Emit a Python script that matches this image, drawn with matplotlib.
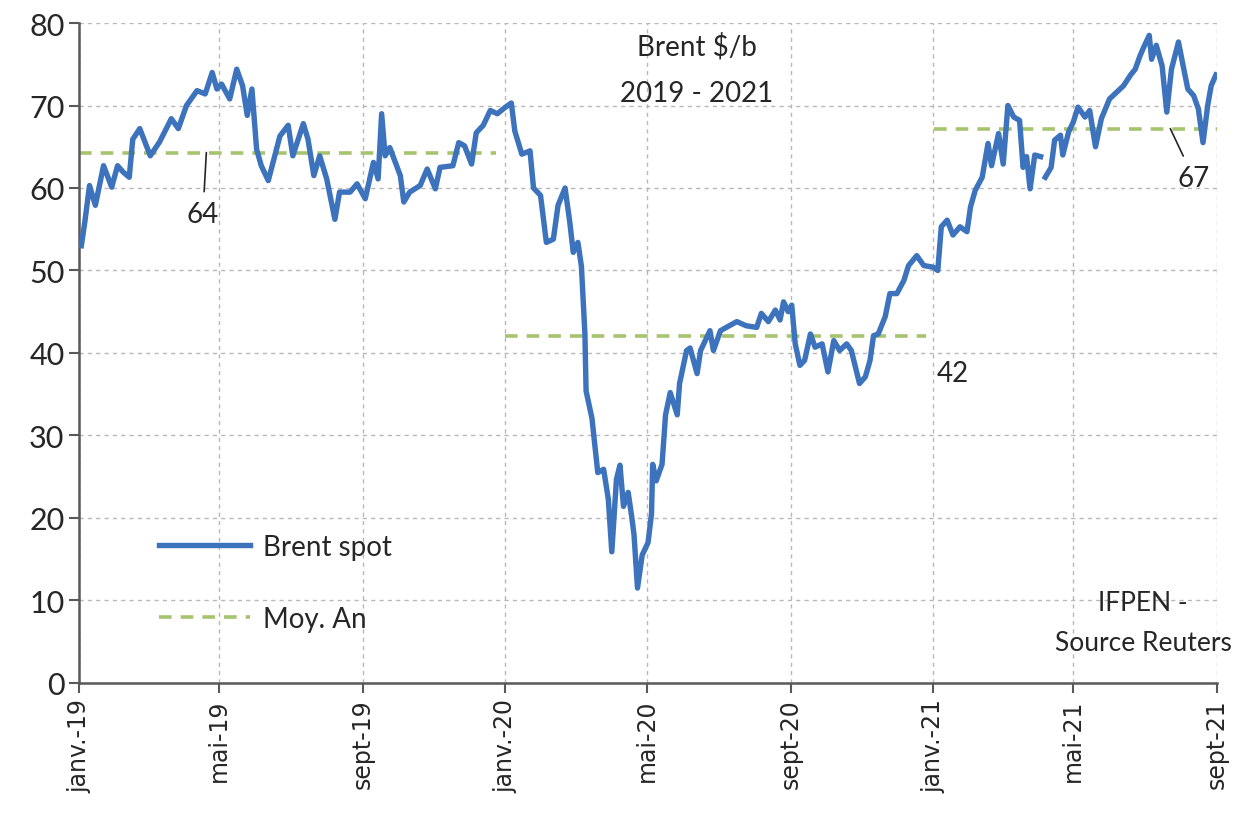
import numpy as np
import pandas as pd
import matplotlib
matplotlib.use("Agg")
import matplotlib.pyplot as plt

START = pd.Timestamp("2019-01-01")

# days since 1 Jan 2019, Brent spot $/b (nan = gap)
days = [2, 5, 9, 14, 21, 28, 33, 38, 43, 46, 52, 61, 69, 79, 85, 92, 101, 108, 114, 118,
        122, 129, 135, 140, 144, 148, 152, 156, 162, 172, 179, 183, 192, 196, 201, 206, 212,
        219, 223, 232, 238, 245, 252, 256, 259, 262, 266, 275, 278, 283, 292, 298, 305, 309,
        320, 325, 330, 336, 340, 346, 352, 358, 365, 370, 373, 379, 386, 389, 395, 400, 406,
        410, 416, 420, 423, 427, 430, 433, 434, 439, 444, 449, 453, 456, 460, 463, 466, 470,
        473, 475, 478, 482, 487, 490, 491, 494, 499, 502, 506, 512, 514, 520, 523, 529, 532,
        540, 543, 549, 554, 563, 571, 580, 584, 590, 596, 600, 603, 607, 610, 613, 617, 621,
        626, 630, 636, 641, 646, 651, 657, 661, 668, 673, 677, 680, 684, 690, 694, 700, 706,
        710, 717, 723, 731, 735, 738, 743, 748, 754, 760, 763, 767, 773, 778, 781, 787, 791,
        795, 800, 805, 808, 811, 814, 818, 823, 826, 827, 832, 835, 840, 842, 847, 851, 855,
        861, 865, 870, 875, 882, 888, 894, 900, 904, 908, 912, 916, 918, 922, 927, 931, 935,
        941, 945, 949, 954, 958, 962, 966, 969, 973]
brent = [53.0, 55.9, 60.3, 57.9, 62.7, 60.1, 62.7, 61.9, 61.3, 65.9, 67.2, 63.9, 65.6, 68.4,
         67.2, 70.0, 71.8, 71.4, 74.0, 72.0, 72.6, 70.8, 74.4, 72.4, 68.8, 72.0, 64.7, 62.7,
         60.9, 66.3, 67.6, 63.9, 67.8, 65.9, 61.5, 63.9, 61.1, 56.2, 59.5, 59.5, 60.5, 58.7,
         63.1, 61.1, 69.0, 63.9, 64.9, 61.5, 58.3, 59.5, 60.3, 62.3, 59.9, 62.5, 62.7, 65.5,
         65.1, 62.9, 66.7, 67.6, 69.4, 69.0, 69.8, 70.3, 66.9, 64.1, 64.5, 60.0, 59.1, 53.4,
         53.8, 57.9, 60.0, 55.9, 52.2, 53.4, 50.5, 42.3, 35.4, 32.1, 25.5, 25.9, 22.3, 15.9,
         24.7, 26.4, 21.4, 23.1, 20.2, 18.0, 11.5, 15.5, 17.0, 20.5, 26.5, 24.5, 26.5, 32.5,
         35.2, 32.5, 36.3, 40.3, 40.6, 37.5, 40.3, 42.7, 40.3, 42.7, 43.1, 43.8, 43.3, 43.1,
         44.8, 43.8, 45.2, 44.0, 46.2, 45.0, 45.8, 41.1, 38.5, 39.1, 42.3, 40.7, 41.1, 37.7,
         41.5, 40.3, 41.1, 40.3, 36.3, 37.1, 39.1, 42.1, 42.3, 44.4, 47.2, 47.2, 48.8, 50.6,
         51.8, 50.6, 50.4, 50.0, 55.3, 56.1, 54.3, 55.3, 54.7, 57.7, 59.7, 61.3, 65.4, 62.7,
         66.6, 62.9, 70.0, 68.6, 68.2, 62.5, 63.8, 59.9, 64.0, 63.8, np.nan, 61.3, 62.5, 65.8,
         66.4, 64.0, 66.8, 68.0, 69.8, 68.6, 69.4, 65.0, 68.4, 70.8, 71.6, 72.4, 73.7, 74.4,
         76.0, 77.3, 78.5, 75.6, 77.3, 74.8, 69.2, 74.4, 77.7, 74.8, 72.0, 71.2, 69.6, 65.5,
         70.0, 72.4, 73.7]

# yearly averages
avg_start = ["2019-01-01", "2020-01-01", "2021-01-02"]
avg_end = ["2019-12-24", "2020-12-26", "2021-09-01"]
avg_value = [64.3, 42.0, 67.2]
avg_label = ["64", "42", "67"]

tick_dates = ["2019-01-01", "2019-05-01", "2019-09-01", "2020-01-01", "2020-05-01",
              "2020-09-01", "2021-01-01", "2021-05-01", "2021-09-01"]
tick_labels = ["janv.-19", "mai-19", "sept-19", "janv.-20", "mai-20",
               "sept-20", "janv.-21", "mai-21", "sept-21"]

BLUE = "#3d73bd"
GREEN = "#a6c46e"
TXT = "#262626"

plt.rcParams["font.family"] = ["Lato", "DejaVu Sans"]

fig = plt.figure(figsize=(12.6, 8.28), dpi=100)
ax = fig.add_axes([0.0627, 0.174, 0.9032, 0.797])

dates = START + pd.to_timedelta(days, unit="D")
ax.plot(dates, brent, color=BLUE, lw=3.9, solid_joinstyle="round", label="Brent spot", zorder=3)

for i, (s, e, v) in enumerate(zip(avg_start, avg_end, avg_value)):
    ax.plot([pd.Timestamp(s), pd.Timestamp(e)], [v, v], color=GREEN, lw=2.6,
            ls=(0, (3.5, 2.5)), label="Moy. An" if i == 0 else None, zorder=2)

# labels of the averages
ax.annotate(avg_label[0], xy=(START + pd.Timedelta(days=109), avg_value[0]),
            xytext=(START + pd.Timedelta(days=106), 56.8), fontsize=20, color=TXT,
            ha="center", va="center",
            arrowprops=dict(arrowstyle="-", color=TXT, lw=1.2, shrinkA=5, shrinkB=0))
ax.text(START + pd.Timedelta(days=748), 37.6, avg_label[1], fontsize=20, color=TXT,
        ha="center", va="center")
ax.annotate(avg_label[2], xy=(START + pd.Timedelta(days=934), avg_value[2]),
            xytext=(START + pd.Timedelta(days=954), 61.2), fontsize=20, color=TXT,
            ha="center", va="center",
            arrowprops=dict(arrowstyle="-", color=TXT, lw=1.2, shrinkA=5, shrinkB=0))

ax.text(0.543, 0.93, "Brent $/b\n2019 - 2021", transform=ax.transAxes, fontsize=20,
        color=TXT, ha="center", va="center", linespacing=2.0)
ax.text(0.935, 0.092, "IFPEN -\nSource Reuters", transform=ax.transAxes, fontsize=19,
        color=TXT, ha="center", va="center", linespacing=1.75)

ax.legend(loc="lower left", bbox_to_anchor=(0.048, 0.04), frameon=False, fontsize=20,
          handlelength=3.3, labelspacing=1.65, handletextpad=0.45, labelcolor=TXT)

ax.set_ylim(0, 80)
ax.set_yticks(range(0, 81, 10))
ax.set_xlim(pd.Timestamp(tick_dates[0]), pd.Timestamp(tick_dates[-1]))
ax.set_xticks(pd.to_datetime(tick_dates))
ax.set_xticklabels(tick_labels, rotation=90, fontsize=17, family="DejaVu Sans", color=TXT)
ax.tick_params(axis="y", labelsize=22, labelcolor=TXT, length=7, width=1.5, color="#595959")
ax.tick_params(axis="x", length=7, width=1.5, color="#595959", pad=4)

ax.grid(True, color="#b8b8b8", lw=1.0, ls=(0, (3, 3)))
ax.set_axisbelow(True)
for side in ("top", "right"):
    ax.spines[side].set_visible(False)
for side in ("left", "bottom"):
    ax.spines[side].set_color("#595959")
    ax.spines[side].set_linewidth(1.8)

fig.savefig("out.png", dpi=100)
